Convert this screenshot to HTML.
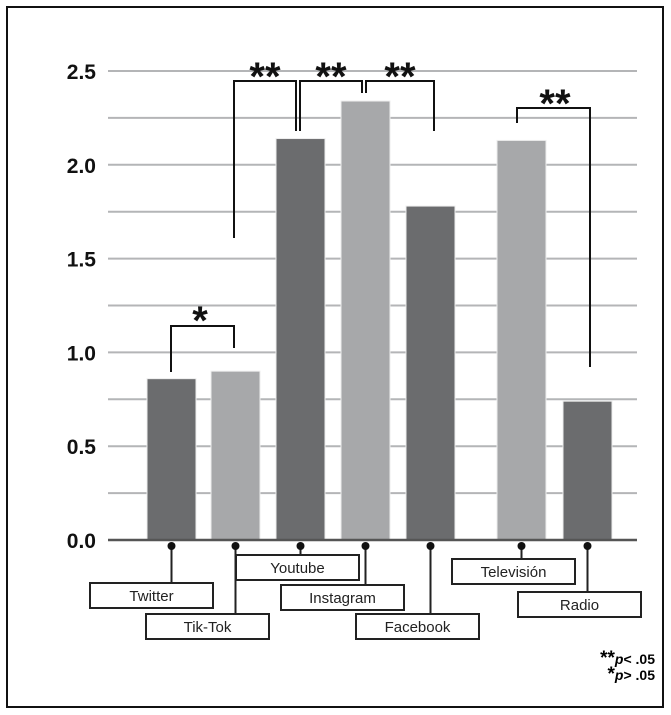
<!DOCTYPE html>
<html><head><meta charset="utf-8"><style>
html,body{margin:0;padding:0;background:#fff;width:671px;height:715px;overflow:hidden}
svg{display:block;font-family:"Liberation Sans",sans-serif}
</style></head><body>
<svg id="chart" width="671" height="715" viewBox="0 0 671 715">
<rect x="7" y="7" width="656" height="700" fill="none" stroke="#111" stroke-width="2"/>
<g id="grid"></g><g id="bars"></g><g id="labels"></g><g id="sig"></g>
<text x="655" y="664" text-anchor="end" font-size="14" font-weight="bold"><tspan font-size="19">**</tspan><tspan font-style="italic">p</tspan>&lt; .05</text>
<text x="655" y="680" text-anchor="end" font-size="14" font-weight="bold"><tspan font-size="19">*</tspan><tspan font-style="italic">p</tspan>&gt; .05</text>
</svg>
<script>
const categories=["Twitter","Tik-Tok","Youtube","Instagram","Facebook","Televisión","Radio"];
const values=[0.86,0.90,2.14,2.34,1.78,2.13,0.74];
const tickLabels=["0.0","0.5","1.0","1.5","2.0","2.5"];
const tickValues=[0,0.5,1,1.5,2,2.5];
const NS="http://www.w3.org/2000/svg";
const barX=[147,211,276,341,406,497,563],barW=49;
const y=v=>540-v*187.6;
function mk(t,a,p){const e=document.createElementNS(NS,t);for(const k in a)e.setAttribute(k,a[k]);p.appendChild(e);return e;}
const grid=document.getElementById('grid');
for(let v=0.25;v<=2.5001;v+=0.25){const g=mk('line',{x1:108,x2:637,y1:y(v),y2:y(v),stroke:'#b4b5b7','stroke-width':2},grid);

}
tickValues.forEach((v,i)=>{const t=mk('text',{x:96,y:y(v)+8,'text-anchor':'end','font-size':21,'font-weight':'bold',fill:'#111'},grid);t.textContent=tickLabels[i];

});
const bars=document.getElementById('bars');
values.forEach((v,i)=>{const r=mk('rect',{x:barX[i],y:y(v),width:barW,height:540-y(v),fill:i%2==0?'#6b6c6e':'#a7a8aa',stroke:'#eee','stroke-width':1},bars);

});
const ax=mk('line',{x1:108,x2:637,y1:540,y2:540,stroke:'#555','stroke-width':2.5},bars);


const boxes=[[90,583],[146,614],[236,555],[281,585],[356,614],[452,559],[518,592]];
const lab=document.getElementById('labels');
categories.forEach((c,i)=>{const cx=barX[i]+barW/2,b=boxes[i];
mk('line',{x1:cx,x2:cx,y1:546,y2:b[1],stroke:'#222','stroke-width':2},lab);
mk('circle',{cx:cx,cy:546,r:4,fill:'#111'},lab);
const r=mk('rect',{x:b[0],y:b[1],width:123,height:25,fill:'#fff',stroke:'#222','stroke-width':2},lab);


const t=mk('text',{x:b[0]+61.5,y:b[1]+18,'text-anchor':'middle','font-size':15,fill:'#222'},lab);t.textContent=c;

});
const sig=document.getElementById('sig');
const brackets=[["M171 372V326H234V348","*",200,320],["M234 238V81H296V131","**",265,76],["M300 131V81H362V93","**",331,76],["M366 93V81H434V131","**",400,76],["M517 123V108H590V367","**",555,103]];
brackets.forEach(b=>{const p=mk('path',{d:b[0],fill:'none',stroke:'#111','stroke-width':2},sig);


const t=mk('text',{x:b[2],y:b[3]+14,'text-anchor':'middle','font-size':40,'font-weight':'bold',fill:'#111'},sig);t.textContent=b[1];

});
</script>
</body></html>
